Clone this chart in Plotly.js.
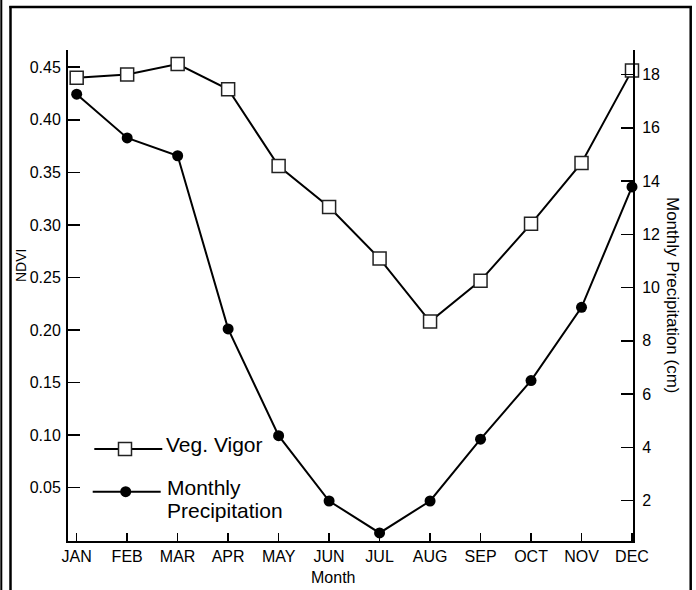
<!DOCTYPE html>
<html>
<head>
<meta charset="utf-8">
<script src="https://cdn.plot.ly/plotly-3.0.1.min.js"></script>
<style>
  html, body { margin: 0; padding: 0; background: #ffffff; }
  #chart { width: 696px; height: 590px; }
</style>
</head>
<body>
<div id="chart"></div>
<script>
// ---- Data ----
const months = ["JAN", "FEB", "MAR", "APR", "MAY", "JUN", "JUL", "AUG", "SEP", "OCT", "NOV", "DEC"];
const vegVigorNDVI = [0.440, 0.443, 0.453, 0.429, 0.356, 0.317, 0.268, 0.208, 0.247, 0.301, 0.359, 0.447];
const precipitationCm = [17.26, 15.62, 14.95, 8.45, 4.44, 1.99, 0.79, 1.99, 4.31, 6.51, 9.26, 13.78];
const ndviTicks = [0.05, 0.10, 0.15, 0.20, 0.25, 0.30, 0.35, 0.40, 0.45];
const precipTicks = [2, 4, 6, 8, 10, 12, 14, 16, 18];
const vegName = "Veg. Vigor";
const precipName = "Monthly Precipitation";

// ---- Layout helpers (pixel -> paper) ----
const W = 696, H = 590;
const M = { l: 68, r: 63, t: 50, b: 49 };
const PW = W - M.l - M.r, PH = H - M.t - M.b;
const px = x => (x - M.l) / PW;
const py = y => (H - M.b - y) / PH;
const FONT = "Liberation Sans, Arial, Helvetica, sans-serif";

const traces = [
  {
    x: months, y: vegVigorNDVI, name: vegName, type: "scatter", mode: "lines+markers",
    xaxis: "x", yaxis: "y", cliponaxis: false, showlegend: false,
    line: { color: "#000000", width: 2 },
    marker: { symbol: "square", size: 13, color: "#ffffff", line: { color: "#222222", width: 1.5 } }
  },
  {
    x: months, y: precipitationCm, name: precipName, type: "scatter", mode: "lines+markers",
    xaxis: "x", yaxis: "y2", cliponaxis: false, showlegend: false,
    line: { color: "#000000", width: 2 },
    marker: { symbol: "circle", size: 11, color: "#000000", line: { width: 0 } }
  }
];

const frameLine = { color: "#000000", width: 2.5 };
const shapes = [
  // outer frame (double line on the left)
  { type: "line", xref: "paper", yref: "paper", x0: px(1.3), x1: px(1.3), y0: py(0), y1: py(H), line: { color: "#000", width: 2 } },
  { type: "line", xref: "paper", yref: "paper", x0: px(10.5), x1: px(10.5), y0: py(6), y1: py(H), line: frameLine },
  { type: "line", xref: "paper", yref: "paper", x0: px(9.3), x1: px(692), y0: py(7), y1: py(7), line: frameLine },
  { type: "line", xref: "paper", yref: "paper", x0: px(690.7), x1: px(690.7), y0: py(6), y1: py(H), line: frameLine },
  // legend keys
  { type: "line", xref: "paper", yref: "paper", x0: px(94.3), x1: px(162.3), y0: py(449), y1: py(449), line: { color: "#000", width: 2 } },
  { type: "rect", xref: "paper", yref: "paper", x0: px(118.5), x1: px(131.5), y0: py(442.5), y1: py(455.5), fillcolor: "#ffffff", line: { color: "#222222", width: 1.5 } },
  { type: "line", xref: "paper", yref: "paper", x0: px(92.7), x1: px(160.7), y0: py(491.7), y1: py(491.7), line: { color: "#000", width: 2 } },
  { type: "circle", xref: "paper", yref: "paper", x0: px(120.2), x1: px(131.2), y0: py(486.2), y1: py(497.2), fillcolor: "#000000", line: { color: "#000", width: 0 } }
];

const annotations = [
  { text: vegName, xref: "paper", yref: "paper", x: px(164), y: py(444.5), xanchor: "left", yanchor: "middle", showarrow: false, font: { family: FONT, size: 21, color: "#000" } },
  { text: "Monthly", xref: "paper", yref: "paper", x: px(164.7), y: py(487.7), xanchor: "left", yanchor: "middle", showarrow: false, font: { family: FONT, size: 21, color: "#000" } },
  { text: "Precipitation", xref: "paper", yref: "paper", x: px(164.7), y: py(510.7), xanchor: "left", yanchor: "middle", showarrow: false, font: { family: FONT, size: 21, color: "#000" } },
  { text: "NDVI", xref: "paper", yref: "paper", x: px(21), y: py(266), xanchor: "center", yanchor: "middle", textangle: -90, showarrow: false, font: { family: FONT, size: 14, color: "#000" } },
  { text: "Month", xref: "paper", yref: "paper", x: px(333), y: py(577.8), xanchor: "center", yanchor: "middle", showarrow: false, font: { family: FONT, size: 16, color: "#000" } },
  { text: "Monthly Precipitation (cm)", xref: "paper", yref: "paper", x: px(673), y: py(295), xanchor: "center", yanchor: "middle", textangle: 90, showarrow: false, font: { family: FONT, size: 17, color: "#000" } }
];

const layout = {
  width: W, height: H,
  margin: M,
  paper_bgcolor: "#ffffff", plot_bgcolor: "#ffffff",
  showlegend: false,
  font: { family: FONT, size: 16, color: "#000" },
  xaxis: {
    type: "category", range: [-0.172, 11.02],
    showgrid: false, zeroline: false,
    showline: true, linecolor: "#000", linewidth: 2,
    ticks: "inside", ticklen: 8, tickwidth: 1.5, tickcolor: "#000",
    tickfont: { family: FONT, size: 16, color: "#000" }
  },
  yaxis: {
    range: [-0.0007, 0.4664],
    tickvals: ndviTicks, ticktext: ndviTicks.map(v => v.toFixed(2)),
    showgrid: false, zeroline: false,
    showline: true, linecolor: "#000", linewidth: 2,
    ticks: "inside", ticklen: 12, tickwidth: 1.5, tickcolor: "#000",
    ticklabelstandoff: 2,
    tickfont: { family: FONT, size: 16, color: "#000" }
  },
  yaxis2: {
    overlaying: "y", side: "right",
    range: [0.488, 18.92],
    tickvals: precipTicks,
    showgrid: false, zeroline: false,
    showline: true, linecolor: "#000", linewidth: 2,
    ticks: "inside", ticklen: 12, tickwidth: 1.5, tickcolor: "#000",
    ticklabelstandoff: 4,
    tickfont: { family: FONT, size: 16, color: "#000" }
  },
  shapes: shapes,
  annotations: annotations
};

Plotly.newPlot("chart", traces, layout, { displayModeBar: false, staticPlot: true });
</script>
</body>
</html>
